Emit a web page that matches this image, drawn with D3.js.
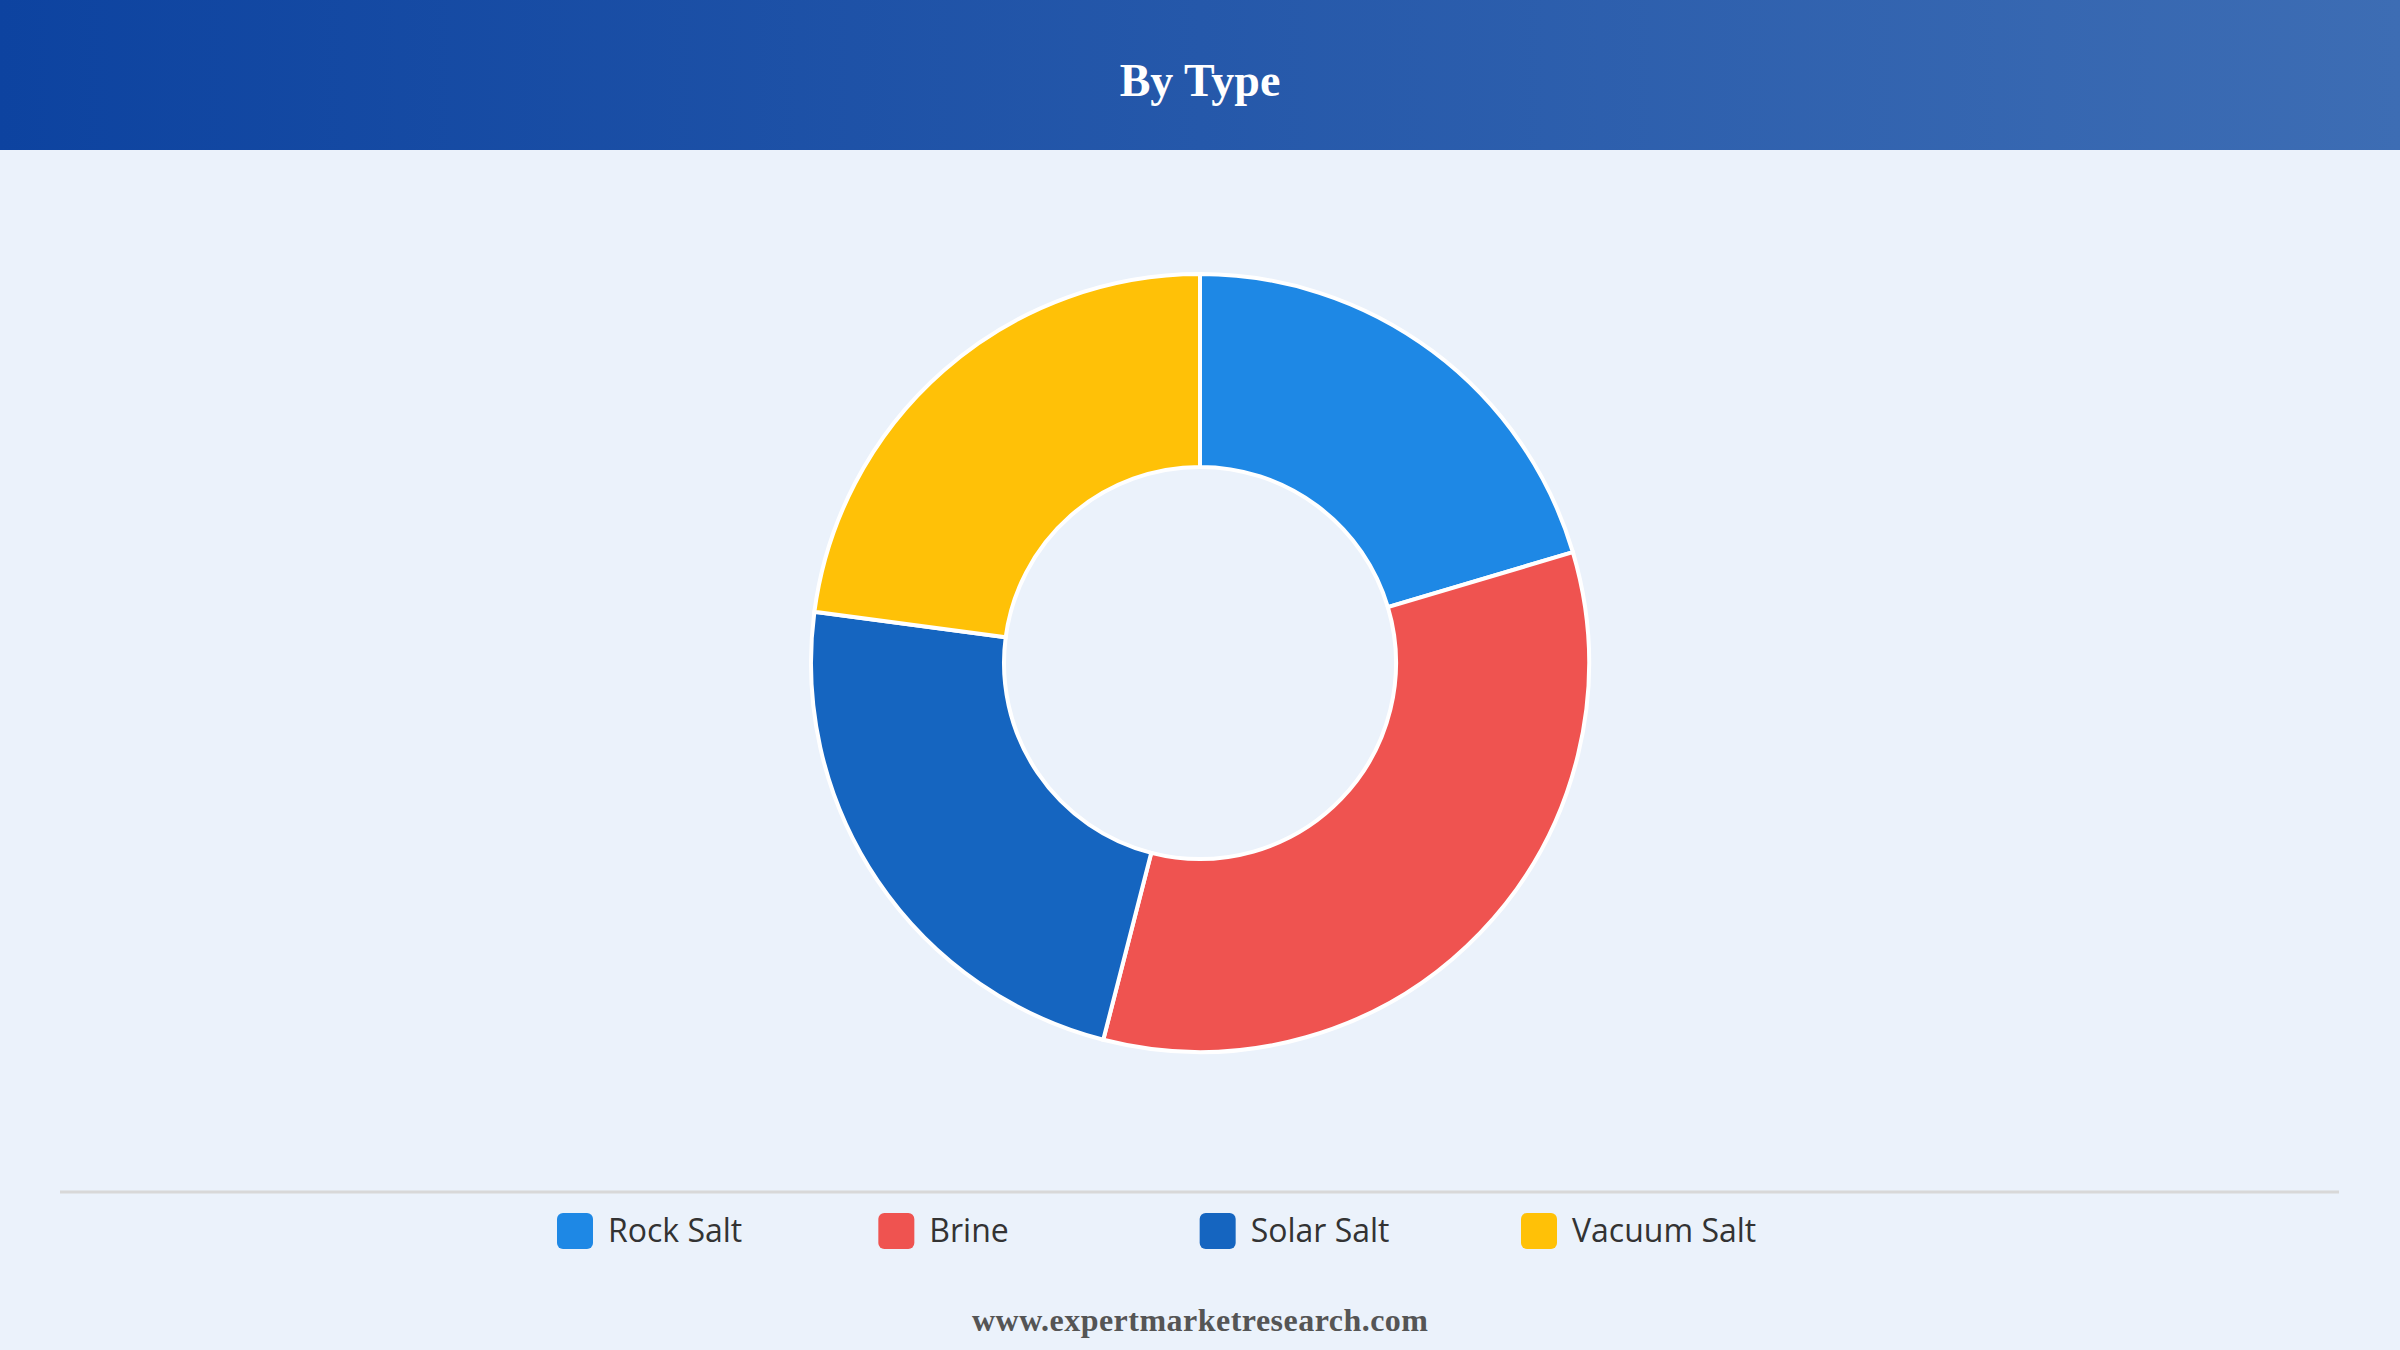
<!DOCTYPE html>
<html><head><meta charset="utf-8">
<script src="https://cdn.jsdelivr.net/npm/d3@7"></script>
<style>body{margin:0;background:#EBF2FB;}svg{display:block}</style>
</head><body>
<svg id="c" width="2400" height="1350"></svg>
<script>
const categories = ["Rock Salt", "Brine", "Solar Salt", "Vacuum Salt"];
const values = [20.4, 33.6, 23.1, 22.9];
const colors = ["#1E88E5", "#EF5350", "#1565C0", "#FFC107"];

const svg = d3.select("#c");
const defs = svg.append("defs");
const g = defs.append("linearGradient").attr("id","hg");
g.append("stop").attr("offset","0%").attr("stop-color","#0D43A0");
g.append("stop").attr("offset","100%").attr("stop-color","#3D6DB4");
svg.append("rect").attr("width",2400).attr("height",1350).attr("fill","#EBF2FB");
svg.append("rect").attr("width",2400).attr("height",150).attr("fill","url(#hg)");
svg.append("text").attr("x",1200).attr("y",85).attr("text-anchor","middle").attr("dominant-baseline","middle")
  .attr("font-family","Liberation Serif, serif").attr("font-weight","bold").attr("font-size",46).attr("fill","#fff").text("By Type");

const pie = d3.pie().sort(null).value(d=>d);
const arc = d3.arc().innerRadius(196).outerRadius(389);
svg.append("g").attr("transform","translate(1200,663)")
  .selectAll("path").data(pie(values)).join("path")
  .attr("d",arc).attr("fill",(d,i)=>colors[i]).attr("stroke","#fff").attr("stroke-width",4);

svg.append("line").attr("x1",60).attr("x2",2339).attr("y1",1192).attr("y2",1192).attr("stroke","#d8d8d8").attr("stroke-width",3);
const lx = d3.scalePoint().domain(categories).range([557,1521]);
const lg = svg.selectAll("g.l").data(categories).join("g").attr("transform",d=>`translate(${lx(d)},1231)`);
lg.append("rect").attr("x",0).attr("y",-18).attr("width",36).attr("height",36).attr("rx",6).attr("fill",(d,i)=>colors[i]);
lg.append("text").attr("x",51).attr("y",2).attr("dominant-baseline","middle").attr("font-family","Open Sans, sans-serif")
  .attr("font-size",32).attr("font-weight",500).attr("fill","#333").text(d=>d);

svg.append("text").attr("x",1200).attr("y",1324).attr("text-anchor","middle").attr("dominant-baseline","middle")
  .attr("font-family","Liberation Serif, serif").attr("font-weight","bold").attr("font-size",32).attr("fill","#555")
  .attr("textLength",456).text("www.expertmarketresearch.com");
</script>
</body></html>
